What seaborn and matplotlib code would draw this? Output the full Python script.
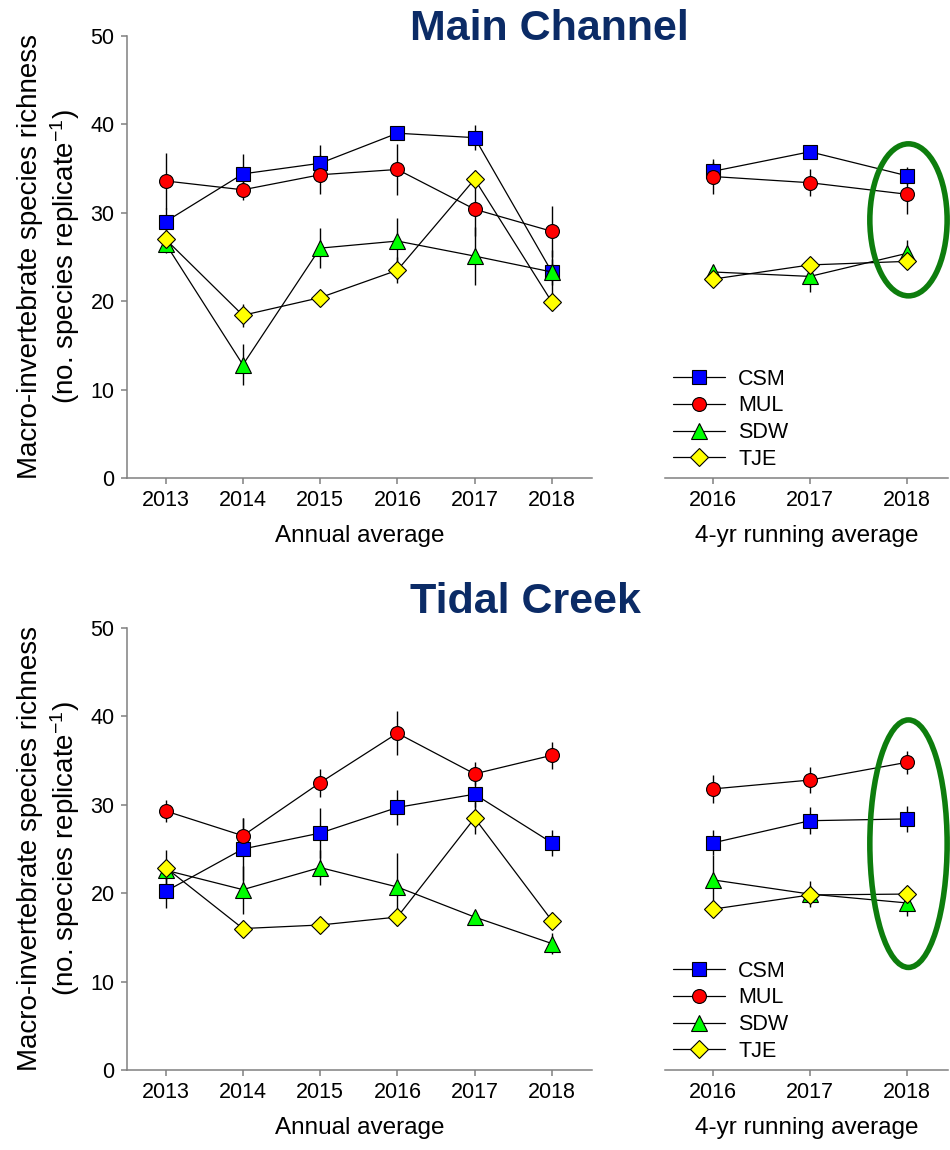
import pandas as pd
import seaborn as sns
import matplotlib.pyplot as plt
from matplotlib.patches import Ellipse

years = [2013, 2014, 2015, 2016, 2017, 2018]
run_years = [2016, 2017, 2018]
sites = ['CSM', 'MUL', 'SDW', 'TJE']

# Main Channel - annual average
mc_csm = [29.0, 34.4, 35.6, 39.0, 38.5, 23.3]
mc_csm_err = [1.5, 2.3, 2.1, 0.8, 1.4, 2.5]
mc_mul = [33.6, 32.6, 34.3, 34.9, 30.4, 27.9]
mc_mul_err = [3.2, 1.1, 2.2, 2.9, 3.0, 2.9]
mc_sdw = [26.5, 12.8, 26.0, 26.8, 25.1, 23.3]
mc_sdw_err = [1.0, 2.3, 2.3, 2.6, 3.3, 1.5]
mc_tje = [27.0, 18.4, 20.4, 23.5, 33.8, 19.9]
mc_tje_err = [1.0, 1.3, 0.5, 1.5, 1.0, 1.0]

# Main Channel - 4-yr running average
mc_csm_run = [34.7, 36.9, 34.2]
mc_csm_run_err = [1.0, 0.5, 1.0]
mc_mul_run = [34.1, 33.4, 32.1]
mc_mul_run_err = [2.0, 1.5, 2.2]
mc_sdw_run = [23.3, 22.8, 25.4]
mc_sdw_run_err = [0.8, 1.8, 1.5]
mc_tje_run = [22.5, 24.1, 24.5]
mc_tje_run_err = [0.5, 0.5, 0.5]

# Tidal Creek - annual average
tc_csm = [20.2, 25.0, 26.8, 29.7, 31.2, 25.7]
tc_csm_err = [1.9, 3.5, 2.8, 2.0, 1.5, 1.5]
tc_mul = [29.3, 26.5, 32.5, 38.1, 33.5, 35.6]
tc_mul_err = [1.2, 2.0, 1.6, 2.5, 1.3, 1.5]
tc_sdw = [22.6, 20.4, 22.9, 20.7, 17.3, 14.3]
tc_sdw_err = [1.0, 2.7, 2.0, 3.8, 0.5, 1.2]
tc_tje = [22.9, 16.0, 16.4, 17.3, 28.5, 16.9]
tc_tje_err = [2.0, 1.0, 0.5, 1.0, 1.8, 1.0]

# Tidal Creek - 4-yr running average
tc_csm_run = [25.7, 28.2, 28.4]
tc_csm_run_err = [1.4, 1.5, 1.5]
tc_mul_run = [31.8, 32.8, 34.8]
tc_mul_run_err = [1.6, 1.5, 1.3]
tc_sdw_run = [21.5, 19.9, 18.9]
tc_sdw_run_err = [2.8, 1.5, 1.5]
tc_tje_run = [18.2, 19.8, 19.9]
tc_tje_run_err = [0.5, 0.5, 0.5]

# ellipses highlighting 2018 running average (center y, height)
mc_ellipse = (29.2, 17.2)
tc_ellipse = (25.6, 28.0)

sns.set_style("ticks")
plt.rcParams['font.family'] = ['Liberation Sans', 'DejaVu Sans']
plt.rcParams['mathtext.fontset'] = 'custom'
plt.rcParams['mathtext.rm'] = 'Liberation Sans'
plt.rcParams['mathtext.it'] = 'Liberation Sans'
plt.rcParams['mathtext.default'] = 'regular'
plt.rcParams['text.color'] = 'black'
plt.rcParams['axes.labelcolor'] = 'black'
plt.rcParams['xtick.labelcolor'] = 'black'
plt.rcParams['ytick.labelcolor'] = 'black'

markers = {'CSM': ('s', 9.5, '#0000ff'), 'MUL': ('o', 10, '#ff0000'),
           'SDW': ('^', 11, '#00ff00'), 'TJE': ('D', 9, '#ffff00')}
spine_col = '#808080'
navy = '#0b2b66'
ring = '#0d7d0d'

fig = plt.figure(figsize=(9.5, 11.5), dpi=100)


def draw(ax, xs, series, errs):
    for i, site in enumerate(sites):
        m, ms, fc = markers[site]
        ax.errorbar(xs, series[i], yerr=errs[i], fmt='none', ecolor='black',
                    elinewidth=1.0, capsize=0, zorder=2)
        sns.lineplot(x=xs, y=series[i], ax=ax, color='black', lw=0.9,
                     marker=m, markersize=ms, markerfacecolor=fc,
                     markeredgecolor='black', markeredgewidth=0.8,
                     label=site, legend=False, errorbar=None, zorder=3 + i)


def style(ax, xs, left=True):
    ax.set_ylim(0, 50)
    ax.set_xticks(xs)
    ax.set_xticklabels([str(x) for x in xs])
    ax.tick_params(axis='both', direction='out', length=4, width=1.1,
                   color=spine_col, labelsize=15.5, pad=5, labelcolor='black')
    for s in ['top', 'right']:
        ax.spines[s].set_visible(False)
    ax.spines['bottom'].set_color(spine_col)
    ax.spines['bottom'].set_linewidth(1.1)
    if left:
        ax.spines['left'].set_color(spine_col)
        ax.spines['left'].set_linewidth(1.1)
        ax.set_yticks(range(0, 51, 10))
        ax.set_ylabel('Macro-invertebrate species richness\n'
                      '(no. species replicate$^{-1}$)', fontsize=20, labelpad=6)
    else:
        ax.spines['left'].set_visible(False)
        ax.set_yticks([])
        ax.set_ylabel('')


panels = [
    (0.9687, 'Main Channel', 0.9652,
     [mc_csm, mc_mul, mc_sdw, mc_tje], [mc_csm_err, mc_mul_err, mc_sdw_err, mc_tje_err],
     [mc_csm_run, mc_mul_run, mc_sdw_run, mc_tje_run],
     [mc_csm_run_err, mc_mul_run_err, mc_sdw_run_err, mc_tje_run_err], mc_ellipse),
    (0.4539, 'Tidal Creek', 0.4670,
     [tc_csm, tc_mul, tc_sdw, tc_tje], [tc_csm_err, tc_mul_err, tc_sdw_err, tc_tje_err],
     [tc_csm_run, tc_mul_run, tc_sdw_run, tc_tje_run],
     [tc_csm_run_err, tc_mul_run_err, tc_sdw_run_err, tc_tje_run_err], tc_ellipse),
]

h = 0.3843
for top, title, ty, ann, ann_err, run, run_err, ell in panels:
    ax1 = fig.add_axes([0.1337, top - h, 0.4895, h])
    ax2 = fig.add_axes([0.700, top - h, 0.298, h])

    draw(ax1, years, ann, ann_err)
    style(ax1, years)
    ax1.set_xlim(2012.5, 2018.52)
    ax1.set_xlabel('Annual average', fontsize=17.5, labelpad=10)

    draw(ax2, run_years, run, run_err)
    style(ax2, run_years, left=False)
    ax2.set_xlim(2015.5, 2018.43)
    ax2.set_xlabel('4-yr running average', fontsize=17.5, labelpad=10)

    ax2.add_patch(Ellipse((2018.02, ell[0]), width=0.8, height=ell[1], fill=False,
                          ec=ring, lw=4, zorder=10, clip_on=False))

    ax2.legend(loc='lower left', bbox_to_anchor=(0.03, 0.018), frameon=False,
               fontsize=15.5, handlelength=2.4, handletextpad=0.6,
               labelspacing=0.27, borderpad=0, borderaxespad=0)

    fig.text(0.4316, ty, title, ha='left', va='baseline', fontsize=31,
             fontweight='bold', color=navy)

fig.savefig('out.png', dpi=100)
